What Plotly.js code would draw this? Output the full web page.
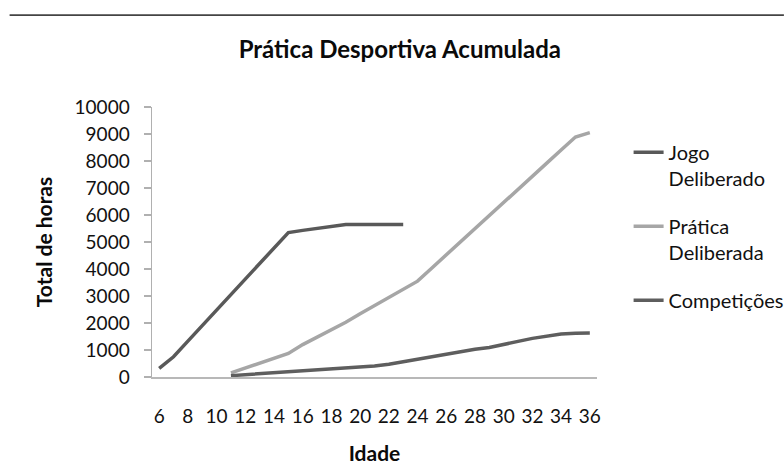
<!DOCTYPE html>
<html>
<head>
<meta charset="utf-8">
<script src="https://cdn.plot.ly/plotly-3.0.1.min.js"></script>
<style>html,body{margin:0;padding:0;background:#fff;}#chart{width:784px;height:472px;}</style>
</head>
<body>
<div id="chart"></div>
<script>
// Ages (x categories) and tick labels
const xTicks = [6, 8, 10, 12, 14, 16, 18, 20, 22, 24, 26, 28, 30, 32, 34, 36];
const yTicks = [0, 1000, 2000, 3000, 4000, 5000, 6000, 7000, 8000, 9000, 10000];

// Jogo Deliberado (ages 6–23)
const jogoAges = [6, 7, 8, 9, 10, 11, 12, 13, 14, 15, 16, 17, 18, 19, 20, 21, 22, 23];
const jogoHours = [320, 750, 1330, 1900, 2480, 3050, 3630, 4200, 4780, 5350, 5430, 5510, 5590, 5650, 5650, 5650, 5650, 5650];

// Prática Deliberada (ages 11–36)
const praticaAges = [11, 12, 13, 14, 15, 16, 17, 18, 19, 20, 21, 22, 23, 24, 25, 26, 27, 28, 29, 30, 31, 32, 33, 34, 35, 36];
const praticaHours = [150, 330, 510, 690, 870, 1200, 1470, 1730, 2030, 2340, 2640, 2950, 3250, 3550, 4040, 4520, 5010, 5500, 5980, 6470, 6950, 7440, 7920, 8410, 8890, 9050];

// Competições (ages 11–36)
const compAges = [11, 12, 13, 14, 15, 16, 17, 18, 19, 20, 21, 22, 23, 24, 25, 26, 27, 28, 29, 30, 31, 32, 33, 34, 35, 36];
const compHours = [50, 85, 120, 160, 195, 230, 265, 300, 340, 375, 410, 470, 560, 660, 760, 860, 950, 1030, 1090, 1190, 1320, 1430, 1520, 1590, 1620, 1630];

const FONT = 'Lato, "Open Sans", sans-serif';

const traces = [
  {x: jogoAges, y: jogoHours, name: 'Jogo<br>Deliberado', legendgroup: 'a', mode: 'lines',
   line: {color: '#595959', width: 3.5}},
  {x: praticaAges, y: praticaHours, name: 'Prática<br>Deliberada', legendgroup: 'b', mode: 'lines',
   line: {color: '#a6a6a6', width: 3.5}},
  {x: compAges, y: compHours, name: 'Competições', legendgroup: 'c', mode: 'lines',
   line: {color: '#5e5e5e', width: 3.5}}
];

const layout = {
  width: 784, height: 472,
  margin: {l: 152, r: 187, t: 107, b: 95, autoexpand: false},
  paper_bgcolor: '#ffffff', plot_bgcolor: '#ffffff',
  font: {family: FONT, size: 19, color: '#111'},
  showlegend: true,
  title: {text: 'Prática Desportiva Acumulada', font: {family: FONT, size: 24, color: '#0a0a0a', weight: 'bold'},
          x: 0.51, xanchor: 'center', y: 0.895, yanchor: 'middle', yref: 'container'},
  xaxis: {
    range: [5.5, 36.5], tickmode: 'array', tickvals: xTicks, ticktext: xTicks.map(String),
    showgrid: false, zeroline: false, showline: true, linecolor: '#b8b8b8', linewidth: 1.5,
    ticks: '', ticklabelstandoff: 22,
    tickfont: {family: FONT, size: 19, color: '#111'},
    title: {text: 'Idade', font: {family: FONT, size: 21, color: '#0a0a0a', weight: 'bold'}, standoff: 20}
  },
  yaxis: {
    range: [0, 10000], tickmode: 'array', tickvals: yTicks, ticktext: yTicks.map(String),
    showgrid: false, zeroline: false, showline: true, linecolor: '#b0b0b0', linewidth: 1.5,
    ticks: 'outside', ticklen: 7, tickcolor: '#b0b0b0', tickwidth: 1.5, ticklabelstandoff: 10,
    tickfont: {family: FONT, size: 19, color: '#111'},
    title: {text: 'Total de horas', font: {family: FONT, size: 21, color: '#0a0a0a', weight: 'bold'}, standoff: 16}
  },
  legend: {
    x: 1.071, xanchor: 'left', y: 0.905, yanchor: 'top', valign: 'top',
    tracegroupgap: 19, bgcolor: 'rgba(0,0,0,0)',
    font: {family: FONT, size: 20, color: '#111'}
  },
  shapes: [
    {type: 'line', xref: 'paper', yref: 'paper', x0: -0.32, x1: 1.42, y0: 1.34, y1: 1.34,
     line: {color: '#444', width: 1.8}}
  ]
};

Plotly.newPlot('chart', traces, layout, {displayModeBar: false, staticPlot: true});
</script>
</body>
</html>
